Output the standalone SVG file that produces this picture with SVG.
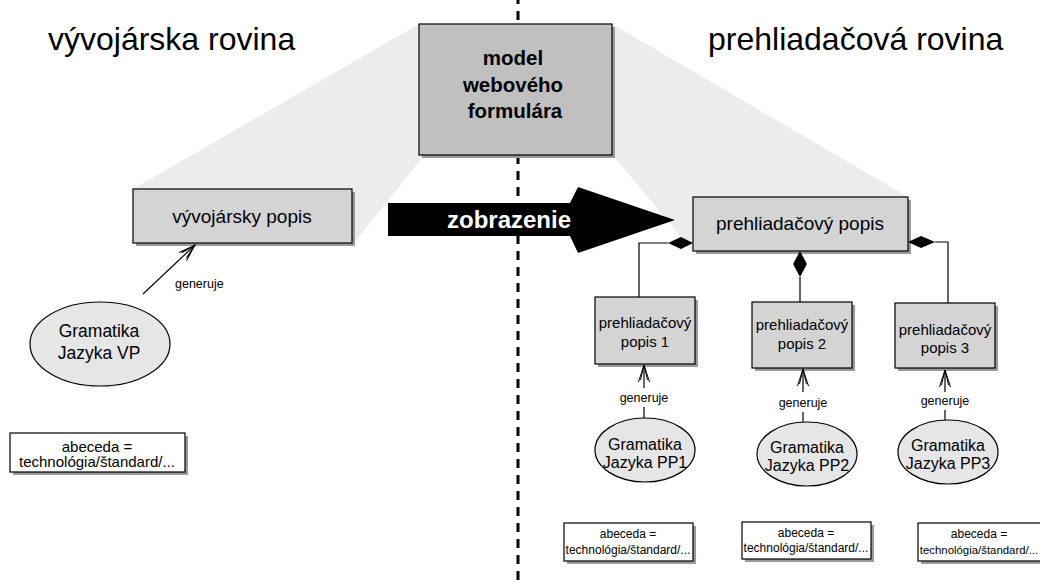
<svg xmlns="http://www.w3.org/2000/svg" width="1040" height="585" viewBox="0 0 1040 585">
<style>
text{font-family:"Liberation Sans",Arial,sans-serif;fill:#000}
.t{text-anchor:middle}
.box{fill:#d4d4d4;stroke:#000;stroke-width:1.2}
.shadow{fill:#9a9a9a}
.ell{fill:#e6e6e6;stroke:#000;stroke-width:1.2}
.note{fill:#fff;stroke:#000;stroke-width:1.2}
.ln{fill:none;stroke:#000;stroke-width:1.2}
.dia{fill:#000}
</style>
<defs>
<marker id="open" viewBox="0 0 18 12" refX="17" refY="6" markerWidth="18" markerHeight="12" markerUnits="userSpaceOnUse" orient="auto">
<path d="M0,0.5 L17,6 L0,11.5 M2,2.5 L17,6 L2,9.5" fill="none" stroke="#000" stroke-width="1"/>
</marker>
</defs>
<rect width="1040" height="585" fill="#fff"/>
<g id="planes">
<polygon points="419,24 133,189 353,244 422,158" fill="#ececec"/>
<polygon points="612,24 908,197 693,251 615,158" fill="#ececec"/>
</g>
<line id="divider" x1="518" y1="0" x2="518" y2="585" stroke="#000" stroke-width="3" stroke-dasharray="9 7" stroke-dashoffset="-11"/>
<text x="48" y="50" font-size="32">vývojárska rovina</text>
<text x="708" y="50" font-size="32">prehliadačová rovina</text>
<g id="model">
<rect class="shadow" x="422" y="27" width="193" height="131"/>
<rect class="box" x="419" y="24" width="193" height="131" style="fill:#c0c0c0"/>
<text class="t" x="513" y="65" font-size="20.5" font-weight="bold">model</text>
<text class="t" x="513" y="92" font-size="20.5" font-weight="bold">webového</text>
<text class="t" x="515" y="118" font-size="20.5" font-weight="bold">formulára</text>
</g>
<g id="zobrazenie">
<polygon points="388,203 570,203 578,187 675,220 578,253 570,236 388,236" fill="#000"/>
<text class="t" x="509" y="228" font-size="24" font-weight="bold" style="fill:#fff">zobrazenie</text>
</g>
<g id="vyvojarsky-popis">
<rect class="shadow" x="136" y="192" width="219" height="54"/>
<rect class="box" x="133" y="189" width="219" height="54"/>
<text class="t" x="242" y="223" font-size="19">vývojársky popis</text>
</g>
<g id="gramatika-vp">
<ellipse class="ell" cx="100" cy="344" rx="70" ry="42"/>
<text class="t" x="99" y="337" font-size="17.5">Gramatika</text>
<text class="t" x="99" y="359" font-size="17.5">Jazyka VP</text>
</g>
<g id="abeceda-vp">
<rect class="shadow" x="13" y="436" width="175" height="39"/>
<rect class="note" x="10" y="433" width="175" height="39"/>
<text class="t" x="97" y="452" font-size="15">abeceda =</text>
<text class="t" x="97" y="467" font-size="15">technológia/štandard/...</text>
</g>
<g id="prehliadacovy-popis">
<rect class="shadow" x="696" y="200" width="215" height="54"/>
<rect class="box" x="693" y="197" width="215" height="54"/>
<text class="t" x="800" y="230" font-size="19">prehliadačový popis</text>
</g>
<g id="popis1">
<rect class="shadow" x="598" y="300" width="100" height="67"/>
<rect class="box" x="595" y="297" width="100" height="67"/>
<text class="t" x="645" y="328" font-size="15">prehliadačový</text>
<text class="t" x="645" y="347" font-size="15">popis 1</text>
</g>
<g id="popis2">
<rect class="shadow" x="755" y="305" width="100" height="66"/>
<rect class="box" x="752" y="302" width="100" height="66"/>
<text class="t" x="802" y="330" font-size="15">prehliadačový</text>
<text class="t" x="802" y="349" font-size="15">popis 2</text>
</g>
<g id="popis3">
<rect class="shadow" x="898" y="306" width="100" height="65"/>
<rect class="box" x="895" y="303" width="100" height="65"/>
<text class="t" x="945" y="335" font-size="15">prehliadačový</text>
<text class="t" x="945" y="353" font-size="15">popis 3</text>
</g>
<g id="gramatika-pp1">
<ellipse class="ell" cx="645" cy="450" rx="50" ry="32"/>
<text class="t" x="645" y="450" font-size="16">Gramatika</text>
<text class="t" x="645" y="468" font-size="16">Jazyka PP1</text>
</g>
<g id="gramatika-pp2">
<ellipse class="ell" cx="807" cy="454" rx="50" ry="32"/>
<text class="t" x="807" y="453" font-size="16">Gramatika</text>
<text class="t" x="807" y="471" font-size="16">Jazyka PP2</text>
</g>
<g id="gramatika-pp3">
<ellipse class="ell" cx="948" cy="452" rx="50" ry="32"/>
<text class="t" x="948" y="451" font-size="16">Gramatika</text>
<text class="t" x="948" y="469" font-size="16">Jazyka PP3</text>
</g>
<g id="abeceda-pp1">
<rect class="shadow" x="567" y="526" width="129" height="38"/>
<rect class="note" x="564" y="523" width="129" height="38"/>
<text class="t" x="628" y="538" font-size="12">abeceda =</text>
<text class="t" x="628" y="554" font-size="12">technológia/štandard/...</text>
</g>
<g id="abeceda-pp2">
<rect class="shadow" x="745" y="525" width="129" height="37"/>
<rect class="note" x="742" y="522" width="129" height="37"/>
<text class="t" x="806" y="537" font-size="12">abeceda =</text>
<text class="t" x="806" y="552" font-size="12">technológia/štandard/...</text>
</g>
<g id="abeceda-pp3">
<rect class="shadow" x="921" y="526" width="129" height="38"/>
<rect class="note" x="918" y="523" width="129" height="38"/>
<text class="t" x="979" y="538" font-size="12">abeceda =</text>
<text class="t" x="979" y="554" font-size="11.4">technológia/štandard/...</text>
</g>
<g id="connectors">
<line class="ln" x1="143" y1="294" x2="195" y2="245" marker-end="url(#open)"/>
<text x="175" y="288" font-size="12.5">generuje</text>
<polyline class="ln" points="668,243 639,243 639,297"/>
<polygon class="dia" points="693,243 681,237 668,243 681,249"/>
<line class="ln" x1="800" y1="277" x2="800" y2="302"/>
<polygon class="dia" points="800,251 807,264 800,277 793,264"/>
<polyline class="ln" points="935,242 948,242 948,303"/>
<polygon class="dia" points="908,242 921,236 935,242 921,248"/>
<line class="ln" x1="644" y1="388" x2="644" y2="365" marker-end="url(#open)"/>
<line class="ln" x1="644" y1="418" x2="644" y2="407"/>
<text class="t" x="644" y="402" font-size="12.5">generuje</text>
<line class="ln" x1="803" y1="392" x2="803" y2="369" marker-end="url(#open)"/>
<line class="ln" x1="803" y1="422" x2="803" y2="412"/>
<text class="t" x="803" y="407" font-size="12.5">generuje</text>
<line class="ln" x1="945" y1="392" x2="945" y2="370" marker-end="url(#open)"/>
<line class="ln" x1="945" y1="420" x2="945" y2="410"/>
<text class="t" x="945" y="405" font-size="12.5">generuje</text>
</g>
</svg>
